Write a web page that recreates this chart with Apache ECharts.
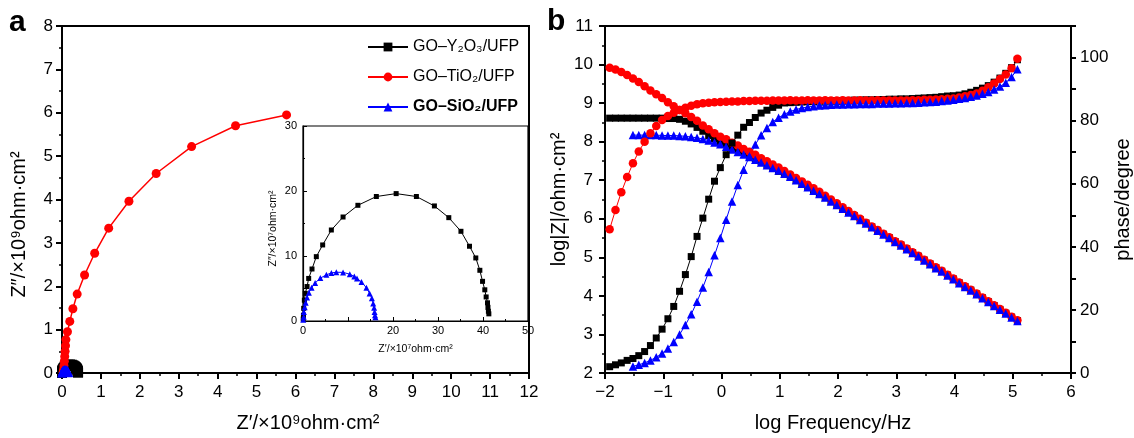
<!DOCTYPE html>
<html>
<head>
<meta charset="utf-8">
<script src="https://cdn.jsdelivr.net/npm/echarts@6/dist/echarts.min.js"></script>
<style>
  html, body { margin: 0; padding: 0; background: #fff; }
  #chart { width: 1134px; height: 438px; }
</style>
</head>
<body>
<div id="chart"></div>
<script>
// ---- Sample names ----
const sampleNames = ['GO–Y₂O₃/UFP', 'GO–TiO₂/UFP', 'GO–SiO₂/UFP'];

// ---- (a) Nyquist, GO–TiO2 in units of 10^9 ohm·cm² ----
const nyqTiO2 = [[0.03,0.02],[0.04,0.08],[0.05,0.17],[0.06,0.27],[0.07,0.38],[0.08,0.50],[0.09,0.63],[0.10,0.77],
  [0.14,0.95],[0.20,1.19],[0.28,1.48],[0.39,1.82],[0.58,2.26],[0.84,2.76],[1.20,3.34],[1.72,3.96],
  [2.42,4.60],[3.33,5.22],[4.46,5.70],[5.77,5.95]];

// ---- (a) inset Nyquist, units of 10^7 ohm·cm² ----
const nyqY2O3 = [[0.05,0.3],[0.1,0.9],[0.15,1.95],[0.3,3.2],[0.5,4.25],[0.9,5.3],[1.26,6.55],[2.0,8.0],
  [2.96,9.9],[4.37,11.7],[6.3,14.0],[8.9,16.0],[12.2,17.8],[16.3,19.15],[20.7,19.6],[25.2,19.15],
  [29.2,17.7],[32.4,15.9],[35.1,13.8],[37.0,11.5],[38.4,9.7],[39.3,7.8],[39.9,6.1],[40.4,4.8],
  [40.7,3.7],[41.0,2.8],[41.1,2.1],[41.2,1.5],[41.3,1.1]];
const nyqSiO2 = [[0.05,0.2],[0.15,0.67],[0.2,1.4],[0.37,2.1],[0.6,2.8],[0.9,3.6],[1.3,4.35],[1.9,5.1],
  [2.7,5.85],[3.85,6.6],[5.2,7.1],[6.3,7.4],[7.4,7.5],[8.9,7.48],[10.4,7.2],[11.4,6.85],[12.0,6.55],
  [13.0,6.0],[14.1,5.1],[14.8,4.25],[15.3,3.5],[15.6,2.7],[15.8,2.05],[15.9,1.4],[16.0,0.9],[16.1,0.56]];

// ---- (b) Bode: log frequency / Hz ----
const logFreq = [-1.92,-1.82,-1.72,-1.62,-1.52,-1.42,-1.32,-1.22,-1.12,-1.02,
  -0.92,-0.82,-0.72,-0.62,-0.52,-0.42,-0.32,-0.22,-0.12,-0.02,
  0.08,0.18,0.28,0.38,0.48,0.58,0.68,0.78,0.88,0.98,
  1.08,1.18,1.28,1.38,1.48,1.58,1.68,1.78,1.88,1.98,
  2.08,2.18,2.28,2.38,2.48,2.58,2.68,2.78,2.88,2.98,
  3.08,3.18,3.28,3.38,3.48,3.58,3.68,3.78,3.88,3.98,
  4.08,4.18,4.28,4.38,4.48,4.58,4.68,4.78,4.88,4.98,
  5.08];

// log|Z| / ohm·cm²
const zmodY2O3 = [8.61,8.61,8.61,8.61,8.61,8.61,8.61,8.61,8.61,8.61,
  8.60,8.60,8.58,8.53,8.46,8.37,8.27,8.16,8.07,8.00,
  7.94,7.87,7.80,7.72,7.64,7.56,7.48,7.40,7.31,7.23,
  7.16,7.08,7.00,6.91,6.82,6.73,6.64,6.55,6.45,6.36,
  6.27,6.17,6.08,5.98,5.89,5.79,5.70,5.60,5.51,5.41,
  5.32,5.22,5.12,5.03,4.93,4.83,4.73,4.64,4.54,4.44,
  4.34,4.24,4.15,4.05,3.95,3.85,3.75,3.65,3.55,3.45,
  3.36];
const zmodTiO2 = [9.92,9.87,9.81,9.73,9.64,9.55,9.44,9.33,9.23,9.13,
  9.02,8.92,8.82,8.74,8.64,8.54,8.42,8.32,8.22,8.13,
  8.06,7.97,7.90,7.81,7.74,7.66,7.57,7.49,7.41,7.33,
  7.24,7.15,7.06,6.97,6.88,6.79,6.70,6.60,6.50,6.40,
  6.30,6.20,6.10,6.00,5.90,5.80,5.71,5.61,5.52,5.42,
  5.33,5.23,5.13,5.04,4.94,4.84,4.74,4.65,4.55,4.45,
  4.35,4.25,4.16,4.06,3.96,3.86,3.76,3.66,3.56,3.46,
  3.37];
const zmodSiO2 = [null,null,null,null,8.17,8.17,8.17,8.17,8.17,8.16,
  8.16,8.16,8.15,8.14,8.12,8.10,8.07,8.03,7.98,7.93,
  7.87,7.80,7.73,7.67,7.60,7.53,7.46,7.39,7.32,7.25,
  7.17,7.09,7.00,6.91,6.82,6.73,6.64,6.55,6.45,6.36,
  6.26,6.16,6.07,5.97,5.88,5.78,5.69,5.59,5.50,5.40,
  5.31,5.21,5.11,5.02,4.92,4.82,4.72,4.63,4.53,4.43,
  4.33,4.23,4.14,4.04,3.94,3.84,3.74,3.64,3.54,3.44,
  3.35];

// phase / degree
const phaseY2O3 = [2.0,2.6,3.2,4.0,4.6,5.5,6.8,8.7,11.1,13.9,
  17.2,21.1,25.9,31.2,36.9,43.3,49.1,55.1,60.8,65.1,
  69.2,72.9,75.4,77.9,79.4,81.0,82.4,83.3,84.2,84.9,
  85.6,85.7,85.8,85.9,86.0,86.1,86.2,86.2,86.3,86.3,
  86.4,86.4,86.5,86.5,86.6,86.6,86.7,86.7,86.8,86.8,
  86.9,86.9,87.0,87.1,87.2,87.3,87.4,87.6,87.8,87.9,
  88.1,88.5,89.0,89.6,90.3,91.1,92.2,93.5,95.0,96.8,
  99.3];
const phaseTiO2 = [45.6,51.7,57.3,62.1,66.5,70.2,73.3,76.0,78.3,80.2,
  81.5,82.5,83.4,84.1,84.7,85.2,85.5,85.7,85.8,85.9,
  86.0,86.1,86.1,86.2,86.2,86.3,86.3,86.3,86.4,86.4,
  86.4,86.5,86.4,86.4,86.5,86.4,86.4,86.5,86.4,86.4,
  86.5,86.4,86.4,86.5,86.4,86.4,86.5,86.4,86.4,86.4,
  86.4,86.4,86.5,86.5,86.6,86.6,86.7,86.8,86.9,87.0,
  87.3,87.7,88.1,88.6,89.5,90.6,91.8,93.2,94.6,96.6,
  99.6];
const phaseSiO2 = [null,null,null,null,2.1,2.6,3.2,4.0,5.0,6.2,
  7.8,9.8,12.2,15.2,18.6,22.6,27.1,32.0,37.3,42.8,
  48.6,54.4,59.6,64.4,68.7,72.4,75.4,77.7,79.6,80.9,
  82.0,82.9,83.5,84.0,84.3,84.6,84.8,84.9,85.0,85.1,
  85.1,85.2,85.2,85.3,85.3,85.3,85.4,85.4,85.4,85.5,
  85.5,85.6,85.6,85.7,85.8,85.9,86.0,86.2,86.4,86.6,
  86.9,87.2,87.6,88.0,88.5,89.1,89.9,90.8,92.0,93.8,
  96.3];

// ---- tick values ----
const insetXLabels = [0, 20, 30, 40, 50];
const phaseLabels = [0, 20, 40, 60, 80, 100];

// ---- styling ----
const FONT = '"Liberation Sans", Arial, Helvetica, sans-serif';
const BLACK = '#000000', RED = '#ff0000', BLUE = '#0000ff';
const colors = [BLACK, RED, BLUE];
const symbols = ['rect', 'circle', 'triangle'];

function pairs(xs, ys) { return xs.map((x, i) => [x, ys[i]]); }
function minus(v) { return v < 0 ? '−' + Math.abs(v) : String(v); }

function mainAxis(extra) {
  return Object.assign({
    type: 'value',
    axisLine: { onZero: false, lineStyle: { color: BLACK, width: 2 } },
    axisTick: { length: 6, lineStyle: { color: BLACK, width: 2 } },
    minorTick: { show: true, splitNumber: 2, length: 3, lineStyle: { color: BLACK, width: 1.5 } },
    splitLine: { show: false },
    minorSplitLine: { show: false },
    axisLabel: { color: BLACK, fontSize: 17, fontFamily: FONT },
    nameLocation: 'middle',
    nameMoveOverlap: false,
    nameTextStyle: { color: BLACK, fontSize: 20, fontFamily: FONT }
  }, extra);
}

function insetAxis(extra) {
  return Object.assign({
    type: 'value',
    gridIndex: 1,
    axisLine: { onZero: false, lineStyle: { color: BLACK, width: 1.2 } },
    axisTick: { inside: true, length: 4, lineStyle: { color: BLACK, width: 1 } },
    minorTick: { show: true, splitNumber: 2, length: 2, lineStyle: { color: BLACK, width: 1 } },
    splitLine: { show: false },
    axisLabel: { color: BLACK, fontSize: 11, fontFamily: FONT },
    nameLocation: 'middle',
    nameMoveOverlap: false,
    nameTextStyle: { color: BLACK, fontSize: 10.5, fontFamily: FONT }
  }, extra);
}

function line(name, k, data, xi, yi, size, width, z) {
  return {
    type: 'line', name: name, data: data,
    xAxisIndex: xi, yAxisIndex: yi,
    symbol: symbols[k], symbolSize: size,
    lineStyle: { color: colors[k], width: width },
    itemStyle: { color: colors[k], borderWidth: 0 },
    emphasis: { disabled: true },
    animation: false,
    z: z || 2
  };
}

const toE9 = pts => pts.map(p => [p[0] / 100, p[1] / 100]);   // 10^7 -> 10^9 units

const chart = echarts.init(document.getElementById('chart'), null, { renderer: 'canvas' });

chart.setOption({
  animation: false,
  backgroundColor: '#fff',
  textStyle: { fontFamily: FONT },
  grid: [
    { left: 62, top: 26, width: 467, height: 347, show: true, borderColor: BLACK, borderWidth: 2, outerBoundsMode: 'none' },
    { left: 303, top: 126, width: 225, height: 195, show: true, borderColor: BLACK, borderWidth: 1.2, backgroundColor: '#fff', outerBoundsMode: 'none' },
    { left: 605, top: 26, width: 466, height: 347, show: true, borderColor: BLACK, borderWidth: 2, outerBoundsMode: 'none' }
  ],
  xAxis: [
    mainAxis({ gridIndex: 0, min: 0, max: 12, interval: 1,
      axisLabel: { color: BLACK, fontSize: 17, fontFamily: FONT, margin: 11 },
      name: 'Z′/×10⁹ohm·cm²', nameGap: 40,
      nameTextStyle: { color: BLACK, fontSize: 20, fontFamily: FONT, padding: [0, 0, 0, 25] } }),
    insetAxis({ min: 0, max: 50, interval: 10,
      axisLabel: { color: BLACK, fontSize: 11, fontFamily: FONT, margin: 4, customValues: insetXLabels },
      name: 'Z′/×10⁷ohm·cm²', nameGap: 23 }),
    mainAxis({ gridIndex: 2, min: -2, max: 6, interval: 1,
      axisLabel: { color: BLACK, fontSize: 17, fontFamily: FONT, margin: 11, formatter: minus },
      name: 'log Frequency/Hz', nameGap: 40,
      nameTextStyle: { color: BLACK, fontSize: 20, fontFamily: FONT, padding: [0, 10, 0, 0] } })
  ],
  yAxis: [
    mainAxis({ gridIndex: 0, min: 0, max: 8, interval: 1,
      axisLabel: { color: BLACK, fontSize: 17, fontFamily: FONT, margin: 9 },
      name: 'Z″/×10⁹ohm·cm²', nameGap: 33,
      nameTextStyle: { color: BLACK, fontSize: 20, fontFamily: FONT, padding: [0, 50, 0, 0] } }),
    insetAxis({ min: 0, max: 30, interval: 10,
      axisLabel: { color: BLACK, fontSize: 11, fontFamily: FONT, margin: 6 },
      name: 'Z″/×10⁷ohm·cm²', nameGap: 24,
      nameTextStyle: { color: BLACK, fontSize: 10.5, fontFamily: FONT, padding: [0, 10, 0, 0] } }),
    mainAxis({ gridIndex: 2, min: 2, max: 11, interval: 1,
      axisLabel: { color: BLACK, fontSize: 17, fontFamily: FONT, margin: 12 },
      name: 'log|Z|/ohm·cm²', nameGap: 36 }),
    mainAxis({ gridIndex: 2, position: 'right', min: 0, max: 110, interval: 10,
      axisTick: { length: 5, lineStyle: { color: BLACK, width: 2 } },
      minorTick: { show: false },
      axisLabel: { color: BLACK, fontSize: 17, fontFamily: FONT, margin: 9, customValues: phaseLabels },
      name: 'phase/degree', nameGap: 42 })
  ],
  legend: {
    orient: 'vertical', left: 362, top: 33,
    itemWidth: 40, itemHeight: 11, itemGap: 12,
    data: sampleNames,
    selectedMode: false,
    textStyle: { color: BLACK, fontSize: 16, fontFamily: FONT, lineHeight: 18,
      rich: { b: { fontWeight: 'bold', fontSize: 16, fontFamily: FONT, color: BLACK } } },
    formatter: n => n === sampleNames[2] ? '{b|' + n + '}' : n
  },
  graphic: [
    { type: 'text', left: 9, top: 8, style: { text: 'a', font: 'bold 30px ' + FONT, fill: BLACK } },
    { type: 'text', left: 547, top: 7, style: { text: 'b', font: 'bold 30px ' + FONT, fill: BLACK } }
  ],
  series: [
    // (a) main Nyquist
    line(sampleNames[0], 0, toE9(nyqY2O3), 0, 0, 10, 1.5, 3),
    line(sampleNames[1], 1, nyqTiO2, 0, 0, 9, 1.5, 3),
    line(sampleNames[2], 2, toE9(nyqSiO2), 0, 0, 9, 1.5, 4),
    // (a) inset
    line(sampleNames[0], 0, nyqY2O3, 1, 1, 5, 1, 5),
    line(sampleNames[2], 2, nyqSiO2, 1, 1, 6, 1, 5),
    // (b) Bode modulus
    line(sampleNames[0], 0, pairs(logFreq, zmodY2O3), 2, 2, 7, 1),
    line(sampleNames[1], 1, pairs(logFreq, zmodTiO2), 2, 2, 8.5, 1),
    line(sampleNames[2], 2, pairs(logFreq, zmodSiO2), 2, 2, 8.5, 1),
    // (b) Bode phase
    line(sampleNames[0], 0, pairs(logFreq, phaseY2O3), 2, 3, 7, 1),
    line(sampleNames[1], 1, pairs(logFreq, phaseTiO2), 2, 3, 8.5, 1),
    line(sampleNames[2], 2, pairs(logFreq, phaseSiO2), 2, 3, 8.5, 1)
  ]
});
</script>
</body>
</html>
